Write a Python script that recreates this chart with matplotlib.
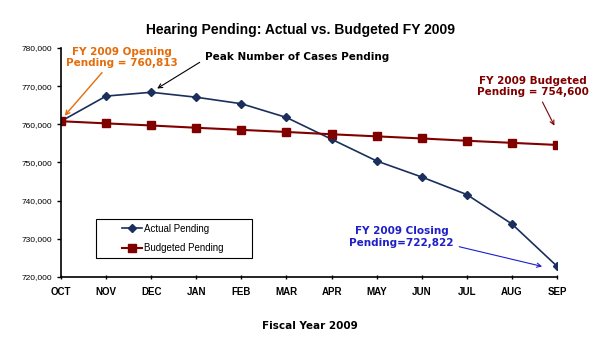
import matplotlib
matplotlib.use("Agg")
import matplotlib.pyplot as plt
from matplotlib.patches import Rectangle
from matplotlib.ticker import FuncFormatter

# data
months = ["OCT", "NOV", "DEC", "JAN", "FEB", "MAR", "APR", "MAY", "JUN", "JUL", "AUG", "SEP"]
actual = [760813, 767400, 768400, 767100, 765400, 761800, 756100, 750400, 746200, 741600, 733900, 722822]
budgeted = [760813, 760250, 759700, 759100, 758550, 758000, 757400, 756850, 756300, 755700, 755150, 754600]

plt.rcParams['font.family'] = ['Liberation Sans', 'DejaVu Sans']
wide = ['DejaVu Sans']  # wider bold face for the callouts

fig = plt.figure(figsize=(6, 3.45), dpi=100)
ax = fig.add_axes([61/600, 1 - 277/345, (557 - 61)/600, (277 - 48)/345])

x = list(range(len(months)))
ax.plot(x, actual, color='#1B2F5C', marker='D', markersize=4, linewidth=1.2, label='Actual Pending')
ax.plot(x, budgeted, color='#800000', marker='s', markersize=6, linewidth=1.5, label='Budgeted Pending')

ax.set_xlim(0, 11)
ax.set_ylim(720000, 780000)
ax.set_yticks(range(720000, 780001, 10000))
ax.yaxis.set_major_formatter(FuncFormatter(lambda v, p: f"{int(v):,}"))
ax.set_xticks(x)
ax.set_xticklabels(months, fontweight='bold', fontsize=7)
ax.tick_params(axis='y', labelsize=6, length=3, width=1)
ax.tick_params(axis='x', length=3, width=1, direction='inout', pad=6)
for side in ['top', 'right']:
    ax.spines[side].set_visible(False)
ax.spines['left'].set_linewidth(1.2)
ax.spines['bottom'].set_linewidth(1.2)

fig.text(0.5, 1 - 30/345, "Hearing Pending: Actual vs. Budgeted FY 2009",
         ha='center', va='center', fontsize=10, fontweight='bold')
fig.text(310/600, 1 - 326/345, "Fiscal Year 2009", ha='center', va='center',
         fontsize=7.5, fontweight='bold', family=wide)

# legend without its own frame, box drawn separately to match the wide flat box
ax.legend(loc='center', bbox_to_anchor=((173 - 61)/496, (277 - 238.5)/229),
          fontsize=7, frameon=False, labelspacing=0.95, handlelength=2.1,
          handletextpad=0.2)
fig.add_artist(Rectangle((96/600, 1 - 258/345), 156/600, 39/345,
                         transform=fig.transFigure, fill=False,
                         edgecolor='black', linewidth=0.8))

ax.annotate("FY 2009 Opening\nPending = 760,813", xy=(0.04, 761700), xytext=(1.35, 777600),
            ha='center', va='center', color='#E46C0A', fontsize=7.5, fontweight='bold',
            family=wide, linespacing=1.15,
            arrowprops=dict(arrowstyle='->', color='#E46C0A', lw=1, relpos=(0.36, 0.0)))
ax.annotate("Peak Number of Cases Pending", xy=(2.08, 769000), xytext=(3.19, 777600),
            ha='left', va='center', color='black', fontsize=7.5, fontweight='bold',
            family=wide,
            arrowprops=dict(arrowstyle='->', color='black', lw=0.8, relpos=(0.0, 0.3)))
ax.annotate("FY 2009 Budgeted\nPending = 754,600", xy=(10.97, 759000), xytext=(10.47, 770000),
            ha='center', va='center', color='#800000', fontsize=7.5, fontweight='bold',
            family=wide, linespacing=1.15,
            arrowprops=dict(arrowstyle='->', color='#800000', lw=0.8, relpos=(0.56, 0.0)))
ax.annotate("FY 2009 Closing\nPending=722,822", xy=(10.73, 722600), xytext=(7.55, 730500),
            ha='center', va='center', color='#1F1FC8', fontsize=7.5, fontweight='bold',
            family=wide, linespacing=1.15,
            arrowprops=dict(arrowstyle='->', color='#1F1FC8', lw=0.8, relpos=(1.0, 0.1)))

fig.savefig("out.png", dpi=100)
